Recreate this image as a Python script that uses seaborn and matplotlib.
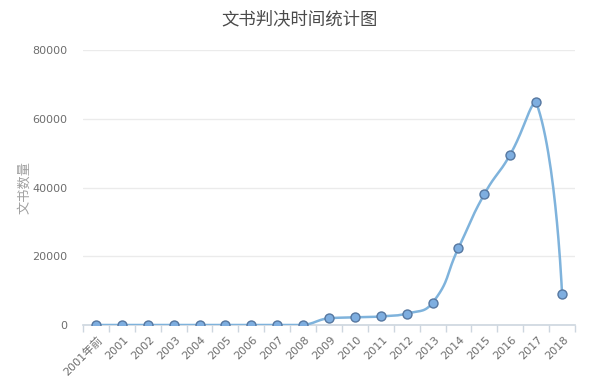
import numpy as np
import pandas as pd
import matplotlib
matplotlib.use("Agg")
import matplotlib.pyplot as plt
import seaborn as sns

# data
years = ["2001年前", "2001", "2002", "2003", "2004", "2005", "2006", "2007", "2008",
         "2009", "2010", "2011", "2012", "2013", "2014", "2015", "2016", "2017", "2018"]
counts = [0, 0, 0, 0, 0, 0, 0, 0, 0,
          2000, 2200, 2500, 3300, 6500, 22400, 38100, 49600, 64800, 9000]
y_ticks = [0, 20000, 40000, 60000, 80000]

title = "文书判决时间统计图"
y_label = "文书数量"


def clamp(v, a, b):
    return min(max(v, min(a, b)), max(a, b))


def smooth_curve(x, y, sx, sy, smooth=0.5, n=30):
    # echarts-like bezier smoothing, control points in pixel space,
    # clamped to the box of the neighbouring segment (no overshoot)
    px = np.asarray(x, float) * sx
    py = np.asarray(y, float) * sy
    m = len(px)
    cps = []
    for i in range(m):
        if i == 0 or i == m - 1:
            cps.append(((px[i], py[i]), (px[i], py[i])))
            continue
        vx = px[i + 1] - px[i - 1]
        vy = py[i + 1] - py[i - 1]
        d0 = np.hypot(px[i] - px[i - 1], py[i] - py[i - 1])
        d1 = np.hypot(px[i + 1] - px[i], py[i + 1] - py[i])
        r = d1 / (d0 + d1) if d0 + d1 > 0 else 0.5
        c0x = clamp(px[i] - vx * smooth * (1 - r), px[i], px[i - 1])
        c0y = clamp(py[i] - vy * smooth * (1 - r), py[i], py[i - 1])
        c1x = clamp(px[i] + vx * smooth * r, px[i], px[i + 1])
        c1y = clamp(py[i] + vy * smooth * r, py[i], py[i + 1])
        cps.append(((c0x, c0y), (c1x, c1y)))
    xs, ys = [], []
    t = np.linspace(0, 1, n)[:, None]
    for i in range(m - 1):
        p0 = np.array([px[i], py[i]])
        p3 = np.array([px[i + 1], py[i + 1]])
        p1 = np.array(cps[i][1])
        p2 = np.array(cps[i + 1][0])
        seg = (1 - t) ** 3 * p0 + 3 * (1 - t) ** 2 * t * p1 \
            + 3 * (1 - t) * t ** 2 * p2 + t ** 3 * p3
        xs.extend(seg[:, 0])
        ys.extend(seg[:, 1])
    return np.array(xs) / sx, np.array(ys) / sy


sns.set_theme(style="white")
plt.rcParams["font.family"] = ["Noto Sans CJK SC", "DejaVu Sans"]

df = pd.DataFrame({"pos": np.arange(len(years)), "count": counts})

fig = plt.figure(figsize=(6, 3.88), dpi=100)
ax = fig.add_axes([83 / 600, 63 / 388, 492 / 600, 275 / 388])

# smooth line (pixel scale: 25.9 px per category, 275 px per 80000)
cx, cy = smooth_curve(df["pos"], df["count"], 25.9, 275 / 80000)
curve = pd.DataFrame({"x": cx, "y": cy})
sns.lineplot(data=curve, x="x", y="y", ax=ax, color="#7fb3dc", lw=1.8,
             sort=False, estimator=None, zorder=3)
sns.scatterplot(data=df, x="pos", y="count", ax=ax, s=42, color="#7eaee0",
                edgecolor="#5677a0", linewidth=1.0, zorder=4)

ax.set_xlim(-0.5, len(years) - 0.5)
ax.set_ylim(0, 80000)
ax.set_yticks(y_ticks)
ax.set_yticklabels([str(v) for v in y_ticks], color="#6e6e6e", fontsize=8,
                   family=["DejaVu Sans"])
ax.yaxis.grid(True, color="#ebebeb", lw=1)
ax.set_axisbelow(True)

# x ticks at category boundaries, labels at centres
ax.set_xticks(np.arange(len(years) + 1) - 0.5)
ax.set_xticklabels([])
ax.tick_params(axis="x", length=5, width=1, color="#cdd6df", direction="out", bottom=True)
ax.tick_params(axis="y", length=0, pad=11)
for i, lab in enumerate(years):
    ax.text(i + 0.05, -2800, lab, rotation=45, ha="right", va="top",
            rotation_mode="anchor", fontsize=8, color="#6e6e6e",
            family=["DejaVu Sans", "Noto Sans CJK SC"])

for s in ["top", "right", "left"]:
    ax.spines[s].set_visible(False)
ax.spines["bottom"].set_color("#cdd6df")
ax.spines["bottom"].set_linewidth(1.2)

ax.set_xlabel("")
ax.set_ylabel("")
fig.text(25 / 600, 1 - 187 / 388, y_label, rotation=90, ha="center", va="center",
         fontsize=9.5, color="#a0a0a0")
fig.text(0.5, 1 - 19 / 388, title, ha="center", va="center", fontsize=12.5,
         color="#4a4a4a")

fig.savefig("out.png", dpi=100)
